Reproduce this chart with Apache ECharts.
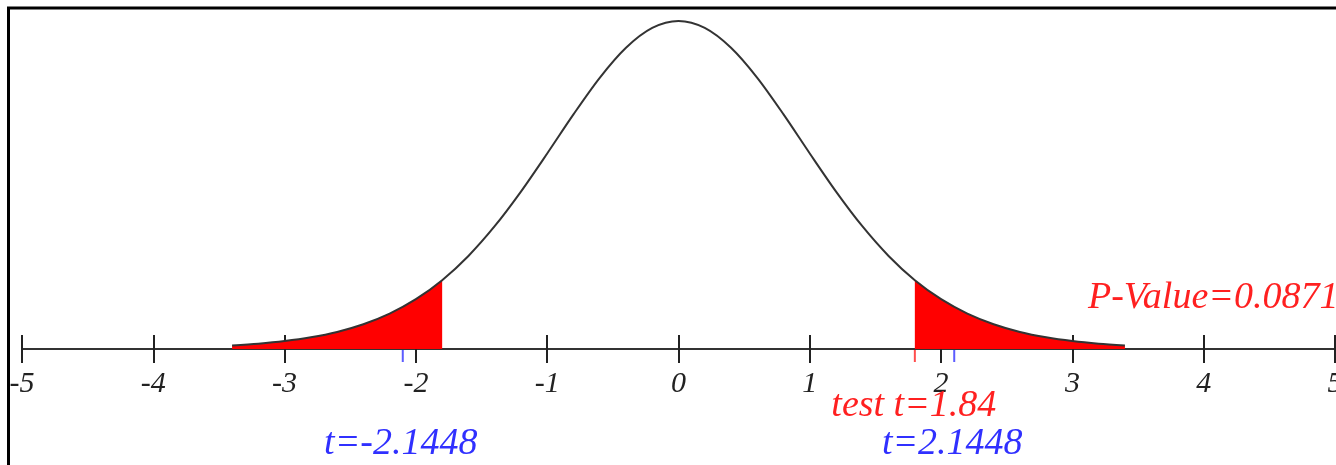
<!DOCTYPE html>
<html>
<head>
<meta charset="utf-8">
<script src="https://cdn.jsdelivr.net/npm/echarts@6/dist/echarts.min.js"></script>
<style>
html,body{margin:0;padding:0;background:#fff;}
#c{width:1336px;height:465px;}
</style>
</head>
<body>
<div id="c"></div>
<script>
// t values and density of the drawn curve
var curveT = [-3.4,-3.2,-3.0,-2.8,-2.6,-2.4,-2.2,-2.0,-1.8,-1.6,-1.4,-1.2,-1.0,-0.8,-0.6,-0.4,-0.2,0,
              0.2,0.4,0.6,0.8,1.0,1.2,1.4,1.6,1.8,2.0,2.2,2.4,2.6,2.8,3.0,3.2,3.4];
var curveDensity = [0.0043,0.0064,0.0095,0.0140,0.0204,0.0296,0.0423,0.0595,0.0822,0.1112,0.1467,0.1881,0.2336,0.2803,0.3240,0.3599,0.3836,0.3919,
                    0.3836,0.3599,0.3240,0.2803,0.2336,0.1881,0.1467,0.1112,0.0822,0.0595,0.0423,0.0296,0.0204,0.0140,0.0095,0.0064,0.0043];
var shadeEdge = 1.8;          // where the red tails begin (picture position)
var axisTicks = [-5,-4,-3,-2,-1,0,1,2,3,4,5];
var critTickT = [-2.1, 2.1];  // blue tick marks (picture position)
var testTickT = [1.8];        // red tick mark
var critLabels = ['t=-2.1448', 't=2.1448'];
var testLabel = 'test t=1.84';
var pLabel = 'P-Value=0.0871';

var curve = curveT.map(function (t, i) { return [t, curveDensity[i]]; });
var leftTail = curve.filter(function (p) { return p[0] <= -shadeEdge; });
var rightTail = curve.filter(function (p) { return p[0] >= shadeEdge; });

var serif = '"Liberation Serif","DejaVu Serif",serif';
var chart = echarts.init(document.getElementById('c'), null, {renderer: 'canvas'});

var option = {
  backgroundColor: '#fff',
  animation: false,
  grid: {left: 22, right: 1, top: 21, bottom: 116, containLabel: false, outerBoundsMode: 'none'},
  xAxis: [{
    type: 'value', min: -5, max: 5, interval: 1,
    axisLine: {show: true, onZero: false, lineStyle: {color: '#333', width: 2}},
    axisTick: {show: true, inside: true, length: 14, lineStyle: {color: '#222', width: 2}},
    axisLabel: {show: true, margin: 20, fontSize: 30, fontFamily: serif, fontStyle: 'italic', color: '#222',
                hideOverlap: false, showMinLabel: true, showMaxLabel: true,
                formatter: function (v) { return String(v); }},
    splitLine: {show: false}
  }, {
    type: 'value', min: -5, max: 5, interval: 1, position: 'bottom',
    axisLine: {show: false},
    axisTick: {show: true, inside: false, length: 14, lineStyle: {color: '#222', width: 2}},
    axisLabel: {show: false},
    splitLine: {show: false}
  }],
  yAxis: {type: 'value', min: 0, max: 0.3919, show: false},
  graphic: [{
    type: 'rect', silent: true, z: 100,
    shape: {x: 8.5, y: 8, width: 1332, height: 600},
    style: {fill: null, stroke: '#000', lineWidth: 3}
  }],
  series: [
    {type: 'line', data: leftTail, smooth: 0.3, symbol: 'none', z: 3,
     lineStyle: {width: 0, opacity: 0}, areaStyle: {color: '#ff0000', opacity: 1}},
    {type: 'line', data: rightTail, smooth: 0.3, symbol: 'none', z: 3,
     lineStyle: {width: 0, opacity: 0}, areaStyle: {color: '#ff0000', opacity: 1}},
    {type: 'line', data: curve, smooth: 0.3, symbol: 'none', z: 4,
     lineStyle: {color: '#333', width: 2}},
    {type: 'scatter', data: critTickT.map(function (t) { return [t, 0]; }), z: 5,
     symbol: 'rect', symbolSize: [2, 12], symbolOffset: [0, 7], itemStyle: {color: '#3333ff'}},
    {type: 'scatter', data: testTickT.map(function (t) { return [t, 0]; }), z: 5,
     symbol: 'rect', symbolSize: [2, 12], symbolOffset: [0, 7], itemStyle: {color: '#ff2020'}}
  ]
};
chart.setOption(option);

function px(t) { return chart.convertToPixel({xAxisIndex: 0, yAxisIndex: 0}, [t, 0]); }
var texts = [];
critTickT.forEach(function (t, i) {
  var p = px(t);
  texts.push({type: 'text', silent: true, z: 50, x: p[0] - 2, y: 444,
    style: {text: critLabels[i], fill: '#3030ff', font: 'italic 38px ' + serif, textAlign: 'center', textVerticalAlign: 'middle'}});
});
var pt = px(testTickT[0]);
texts.push({type: 'text', silent: true, z: 50, x: pt[0] - 1, y: 406,
  style: {text: testLabel, fill: '#ff2020', font: 'italic 38px ' + serif, textAlign: 'center', textVerticalAlign: 'middle'}});
texts.push({type: 'text', silent: true, z: 50, x: 1088, y: 298,
  style: {text: pLabel, fill: '#ff2020', font: 'italic 38px ' + serif, textAlign: 'left', textVerticalAlign: 'middle'}});
chart.setOption({graphic: option.graphic.concat(texts)});
</script>
</body>
</html>
